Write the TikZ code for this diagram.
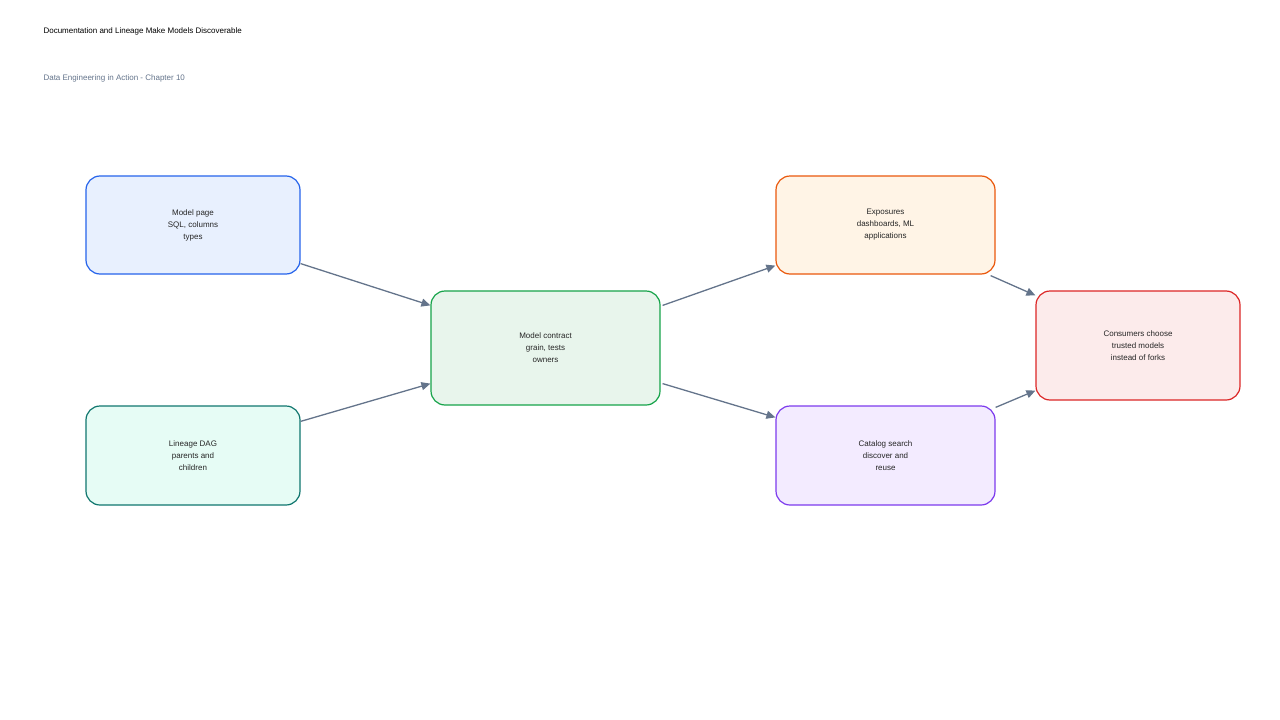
\documentclass[tikz,border=0pt]{standalone}
\usepackage{fontspec}
\setmainfont{Liberation Sans}
\usetikzlibrary{arrows.meta,calc}
\definecolor{ar}{HTML}{64748B}
\tikzset{
 box/.style={draw, line width=1.2pt, rounded corners=14pt, align=center, font=\fontsize{8}{12}\selectfont, text=black!85},
 conn/.style={draw=ar, line width=1.3pt, -{Triangle[length=9pt,width=8pt]}}
}
\begin{document}
\begin{tikzpicture}[x=1pt,y=-1pt]
\useasboundingbox (0,0) rectangle (1280,720);
\node[anchor=west,font=\fontsize{8}{10}\selectfont] (t) at (40,31) {Documentation and Lineage Make Models Discoverable};
\node[anchor=west,font=\fontsize{8}{10}\selectfont,text=ar] (s) at (40,78) {Data Engineering in Action - Chapter 10};
\node[box,draw={rgb,255:red,37;green,99;blue,235},fill={rgb,255:red,232;green,240;blue,254},minimum width=214pt,minimum height=98pt] (A) at (193,225) {Model page\\SQL, columns\\types};
\node[box,draw={rgb,255:red,15;green,118;blue,110},fill={rgb,255:red,230;green,252;blue,245},minimum width=214pt,minimum height=99pt] (B) at (193,455.5) {Lineage DAG\\parents and\\children};
\node[box,draw={rgb,255:red,22;green,163;blue,74},fill={rgb,255:red,232;green,245;blue,236},minimum width=229pt,minimum height=114pt] (C) at (545.5,348) {Model contract\\grain, tests\\owners};
\node[box,draw={rgb,255:red,234;green,88;blue,12},fill={rgb,255:red,255;green,244;blue,230},minimum width=219pt,minimum height=98pt] (D) at (885.5,225) {Exposures\\dashboards, ML\\applications};
\node[box,draw={rgb,255:red,124;green,58;blue,237},fill={rgb,255:red,243;green,235;blue,255},minimum width=219pt,minimum height=99pt] (E) at (885.5,455.5) {Catalog search\\discover and\\reuse};
\node[box,draw={rgb,255:red,220;green,38;blue,38},fill={rgb,255:red,252;green,235;blue,235},minimum width=204pt,minimum height=109pt] (F) at (1138,345.5) {Consumers choose\\trusted models\\instead of forks};
\draw[conn] ($(A.south east)+(0,-11)$) -- ($(C.north west)+(0,15)$);
\draw[conn] ($(B.north east)+(0,16)$) -- ($(C.south west)+(0,-22)$);
\draw[conn] ($(C.north east)+(2,15)$) -- ($(D.south west)+(0,-9)$);
\draw[conn] ($(C.south east)+(2,-22)$) -- ($(E.north west)+(0,12)$);
\draw[conn] ($(D.south east)+(-5,1)$) -- ($(F.north west)+(0,5)$);
\draw[conn] ($(E.north east)+(0,2)$) -- ($(F.south west)+(0,-10)$);
\end{tikzpicture}
\end{document}
